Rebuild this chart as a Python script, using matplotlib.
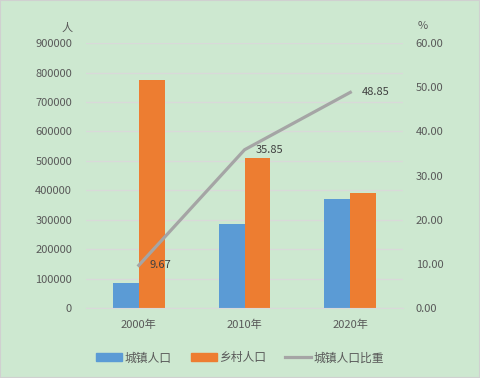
import numpy as np
import matplotlib.pyplot as plt
from matplotlib.patches import Patch
from matplotlib.lines import Line2D

plt.rcParams['font.family'] = ['Noto Sans CJK SC', 'DejaVu Sans']

years = ['2000年', '2010年', '2020年']
urban = [85000, 285000, 371000]
rural = [774000, 510000, 392000]
urban_share = [9.67, 35.85, 48.85]

BG = '#CDE8D0'
TXT = '#595959'
BLUE = '#5B9BD5'
ORANGE = '#ED7D31'
GREY = '#A5A5A5'

fig = plt.figure(figsize=(4.8, 3.78), dpi=100, facecolor=BG)
ax = fig.add_axes([0.179, 0.185, 0.661, 0.701])
ax.set_facecolor(BG)
ax2 = ax.twinx()

x = np.arange(len(years))
w = 0.245
ax.bar(x - w / 2, urban, w, color=BLUE, zorder=2)
ax.bar(x + w / 2, rural, w, color=ORANGE, zorder=2)

ax.set_xlim(-0.5, 2.5)
ax.set_ylim(0, 900000)
ax.set_yticks(np.arange(0, 900001, 100000))
ax.set_yticklabels([str(v) for v in range(0, 900001, 100000)])
ax.set_xticks(x)
ax.set_xticklabels(years)
ax.grid(axis='y', color='#D9D9D9', lw=1, zorder=0)
ax.set_axisbelow(True)

ax2.plot(x, urban_share, color=GREY, lw=2.3, zorder=3)
for xi, v in zip(x, urban_share):
    ax2.annotate(f'{v:.2f}', (xi, v), xytext=(8, 0), textcoords='offset points',
                 va='center', ha='left', fontsize=8, color='#404040')
ax2.set_ylim(0, 60)
ax2.set_yticks(np.arange(0, 61, 10))
ax2.set_yticklabels([f'{v:.2f}' for v in range(0, 61, 10)])

for a in (ax, ax2):
    for s in a.spines.values():
        s.set_visible(False)
    a.tick_params(length=0, labelsize=8, colors=TXT)
ax.spines['bottom'].set_visible(True)
ax.spines['bottom'].set_color('#D9D9D9')
ax.tick_params(axis='y', pad=10)
ax.tick_params(axis='x', pad=8)
ax2.tick_params(axis='y', pad=9)

fig.text(67 / 480, 1 - 28 / 378, '人', fontsize=8, color=TXT, ha='center', va='center')
fig.text(423 / 480, 1 - 26 / 378, '%', fontsize=8, color=TXT, ha='center', va='center')

handles = [Patch(color=BLUE, label='城镇人口'),
           Patch(color=ORANGE, label='乡村人口'),
           Line2D([0], [0], color=GREY, lw=2.3, label='城镇人口比重')]
fig.legend(handles=handles, loc='center', bbox_to_anchor=(0.5, 1 - 358 / 378), ncol=3,
           frameon=False, fontsize=8.5, labelcolor=TXT, handlelength=2.2, handleheight=0.68,
           columnspacing=1.6, handletextpad=0.2)

fig.patches.append(plt.Rectangle((0, 0), 1, 1, transform=fig.transFigure,
                                 fill=False, edgecolor='#D0D0D0', lw=1.5))

fig.savefig('out.png', dpi=100, facecolor=BG)
